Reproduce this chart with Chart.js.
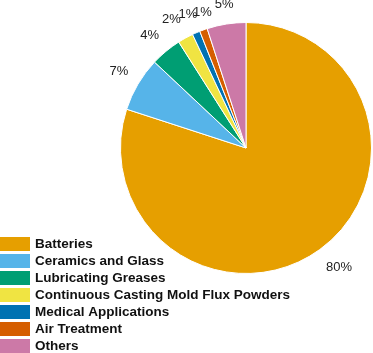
<!DOCTYPE html>
<html>
<head>
<meta charset="utf-8">
<script src="https://cdn.jsdelivr.net/npm/chart.js"></script>
<style>
  html, body { margin: 0; padding: 0; background: #fff; }
  #wrap { width: 373px; height: 353px; position: relative; }
</style>
</head>
<body>
<div id="wrap"><canvas id="pieChart" width="373" height="353"></canvas></div>
<script>
// chart data
const categories = ['Batteries', 'Ceramics and Glass', 'Lubricating Greases',
    'Continuous Casting Mold Flux Powders', 'Medical Applications', 'Air Treatment', 'Others'];
const shares = [80, 7, 4, 2, 1, 1, 5];
const sliceColors = ['#E69F00', '#56B4E9', '#009E73', '#F0E442', '#0072B2', '#D55E00', '#CC79A7'];

// percent labels outside each slice
const outsideLabels = {
    id: 'outsideLabels',
    afterDatasetsDraw(chart) {
        const ctx = chart.ctx;
        const meta = chart.getDatasetMeta(0);
        // small shifts so the tiny slices' labels don't collide
        const nudge = [[7, 1], [-1, -2], [-3, 0], [-4, 0], [0, 1], [6, 2], [1, 1]];
        ctx.save();
        ctx.font = '13px "Liberation Sans", Arial, sans-serif';
        ctx.fillStyle = '#222';
        ctx.textAlign = 'center';
        ctx.textBaseline = 'middle';
        meta.data.forEach((arc, i) => {
            const p = arc.getProps(['x', 'y', 'startAngle', 'endAngle', 'outerRadius'], true);
            const mid = (p.startAngle + p.endAngle) / 2;
            const r = p.outerRadius + 21;
            ctx.fillText(shares[i] + '%', p.x + Math.cos(mid) * r + nudge[i][0],
                p.y + Math.sin(mid) * r + nudge[i][1]);
        });
        ctx.restore();
    }
};

// legend in the lower left corner
const cornerLegend = {
    id: 'cornerLegend',
    afterDraw(chart) {
        const ctx = chart.ctx;
        ctx.save();
        ctx.font = 'bold 13.5px "Liberation Sans", Arial, sans-serif';
        ctx.textBaseline = 'middle';
        categories.forEach((name, i) => {
            const y = 237 + i * 17;
            ctx.fillStyle = sliceColors[i];
            ctx.fillRect(0, y, 30, 14);
            ctx.fillStyle = '#111';
            ctx.fillText(name, 35, y + 7.5);
        });
        ctx.restore();
    }
};

document.addEventListener('DOMContentLoaded', () => {
    const ctx = document.getElementById('pieChart').getContext('2d');
    new Chart(ctx, {
        type: 'pie',
        data: {
            labels: categories,
            datasets: [{
                data: shares,
                backgroundColor: sliceColors,
                borderColor: '#fff',
                borderWidth: 1
            }]
        },
        options: {
            responsive: false,
            animation: false,
            layout: { padding: { left: 120, top: 22, right: 1, bottom: 79 } },
            plugins: {
                legend: { display: false },
                tooltip: { enabled: false }
            }
        },
        plugins: [outsideLabels, cornerLegend]
    });
});
</script>
</body>
</html>
